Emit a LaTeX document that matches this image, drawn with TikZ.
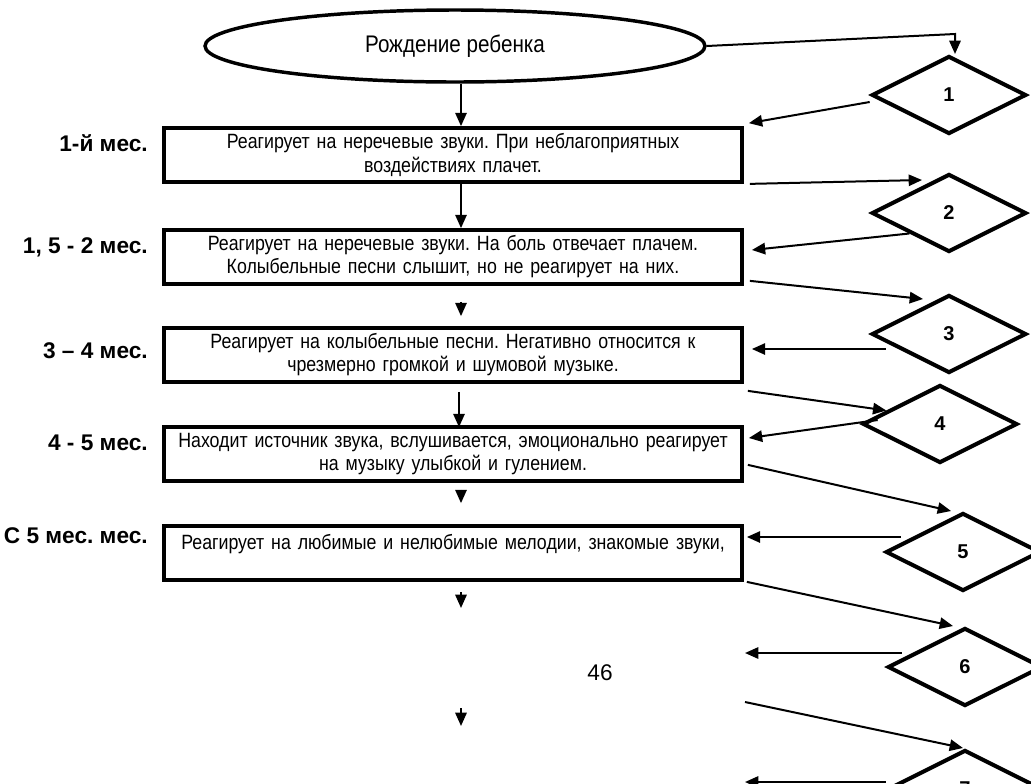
\documentclass[tikz,border=0pt]{standalone}
\usepackage{fontspec}
\setmainfont{Liberation Sans}
\newfontfamily\narrowsans[FakeStretch=0.86]{Liberation Sans}
\usetikzlibrary{shapes.geometric,arrows.meta,calc}

\tikzset{
    stage/.style={draw, line width=2.8pt, minimum width=433.5pt, minimum height=40.5pt,
        inner sep=0pt, text width=425pt, align=center,
        font=\narrowsans\fontsize{15.5}{17.3}\selectfont},
    age/.style={anchor=east, inner sep=0pt, font=\fontsize{17}{20}\selectfont\bfseries},
    check/.style={draw, diamond, aspect=2, line width=3pt, minimum width=116pt,
        minimum height=58.5pt, inner sep=0pt, font=\fontsize{15}{17}\selectfont\bfseries},
    link/.style={->, line width=1.5pt},
}

\begin{document}
\frenchspacing
\begin{tikzpicture}[x=0.75pt, y=-0.75pt, >={Triangle[length=10pt,width=8.5pt]}]
    \fill[white] (0,0) rectangle (1031,783);
    \useasboundingbox (0,0) rectangle (1031,783);
    \clip (0,0) rectangle (1031,783);

    % start of the chain
    \node[draw, ellipse, line width=2.6pt, minimum width=375pt, minimum height=54pt,
        font=\narrowsans\fontsize{18}{21}\selectfont] (birth) at (455,46) {Рождение ребенка};

    % stages, one under the other
    \node[stage] (m1) at (453,155) {Реагирует на неречевые звуки. При неблагоприятных\\ воздействиях плачет.};
    \node[stage] (m2) at (453,257) {Реагирует на неречевые звуки. На боль отвечает плачем.\\ Колыбельные песни слышит, но не реагирует на них.};
    \node[stage] (m3) at (453,355) {Реагирует на колыбельные песни. Негативно относится к\\ чрезмерно громкой и шумовой музыке.};
    \node[stage] (m4) at (453,454) {Находит источник звука, вслушивается, эмоционально реагирует\\ на музыку улыбкой и гулением.};
    \node[stage] (m5) at (453,553) {Реагирует на любимые и нелюбимые мелодии, знакомые звуки,\\ \mbox{}};

    \node[age] (a1) at (148,143) {1-й мес.};
    \node[age] (a2) at (148,247) {1, 5 - 2 мес.};
    \node[age] (a3) at (148,351) {3 – 4 мес.};
    \node[age] (a4) at (148,443) {4 - 5 мес.};
    \node[age] (a5) at (148,536) {С 5 мес. мес.};

    % diamonds on the right
    \node[check] (d1) at (949,95) {1};
    \node[check] (d2) at (949,213) {2};
    \node[check] (d3) at (949,334) {3};
    \node[check] (d4) at (940,424) {4};
    \node[check] (d5) at (963,552) {5};
    \node[check] (d6) at (965,667) {6};
    \node[check] (d7) at (965,789) {7};

    \node[font=\fontsize{17}{20}\selectfont] (page) at (600,673) {46};

    \coordinate (t6) at (461,592);
    \coordinate (t7) at (461,708);
    \coordinate (e6) at (745,653);
    \coordinate (s7) at (745,702);
    \coordinate (e7) at (745,782);

    % down the middle
    \draw[link] ($(birth.south)+(6,0)$) -- ($(m1.north)+(8,0)$);
    \draw[link] ($(m1.south)+(8,0)$) -- ($(m2.north)+(8,0)$);
    \draw[link] ($(m2.south)+(8,16)$) -- ($(m3.north)+(8,-10)$);
    \draw[link] ($(m3.south)+(6,8)$) -- ($(m4.north)+(6,2)$);
    \draw[link] ($(m4.south)+(8,7)$) -- ($(m5.north)+(8,-21)$);
    \draw[link] (t6) -- ++(0,16);
    \draw[link] (t7) -- ++(0,18);

    % to and from the diamonds
    \draw[link] (birth.east) -- ($(d1.north)+(6,-20)$) -- ($(d1.north)+(6,0)$);
    \draw[link] ($(d1.west)+(0,7)$) -- ($(m1.north east)+(5,-3)$);
    \draw[link] ($(m1.south east)+(6,0)$) -- ($(d2.north)+(-27,8)$);
    \draw[link] (d2.south west) -- ($(m2.east)+(8,-7)$);
    \draw[link] ($(m2.south east)+(6,-5)$) -- ($(d3.north)+(-26,6)$);
    \draw[link] ($(d3.west)+(16,15)$) -- ($(m3.east)+(8,-6)$);
    \draw[link] ($(m3.south east)+(4,7)$) -- ($(d4.north west)+(-14,7)$);
    \draw[link] ($(d4.west)+(17,-4)$) -- ($(m4.east)+(5,-16)$);
    \draw[link] ($(m4.south east)+(4,-18)$) -- ($(d5.north)+(-12,0)$);
    \draw[link] ($(d5.west)+(17,-15)$) -- ($(m5.east)+(3,-16)$);
    \draw[link] ($(m5.south east)+(3,0)$) -- ($(d6.north)+(-12,0)$);
    \draw[link] ($(d6.west)+(16,-14)$) -- (e6);
    \draw[link] (s7) -- ($(d7.north)+(-2,0)$);
    \draw[link] ($(d7.west)+(0,-7)$) -- (e7);
\end{tikzpicture}
\end{document}
